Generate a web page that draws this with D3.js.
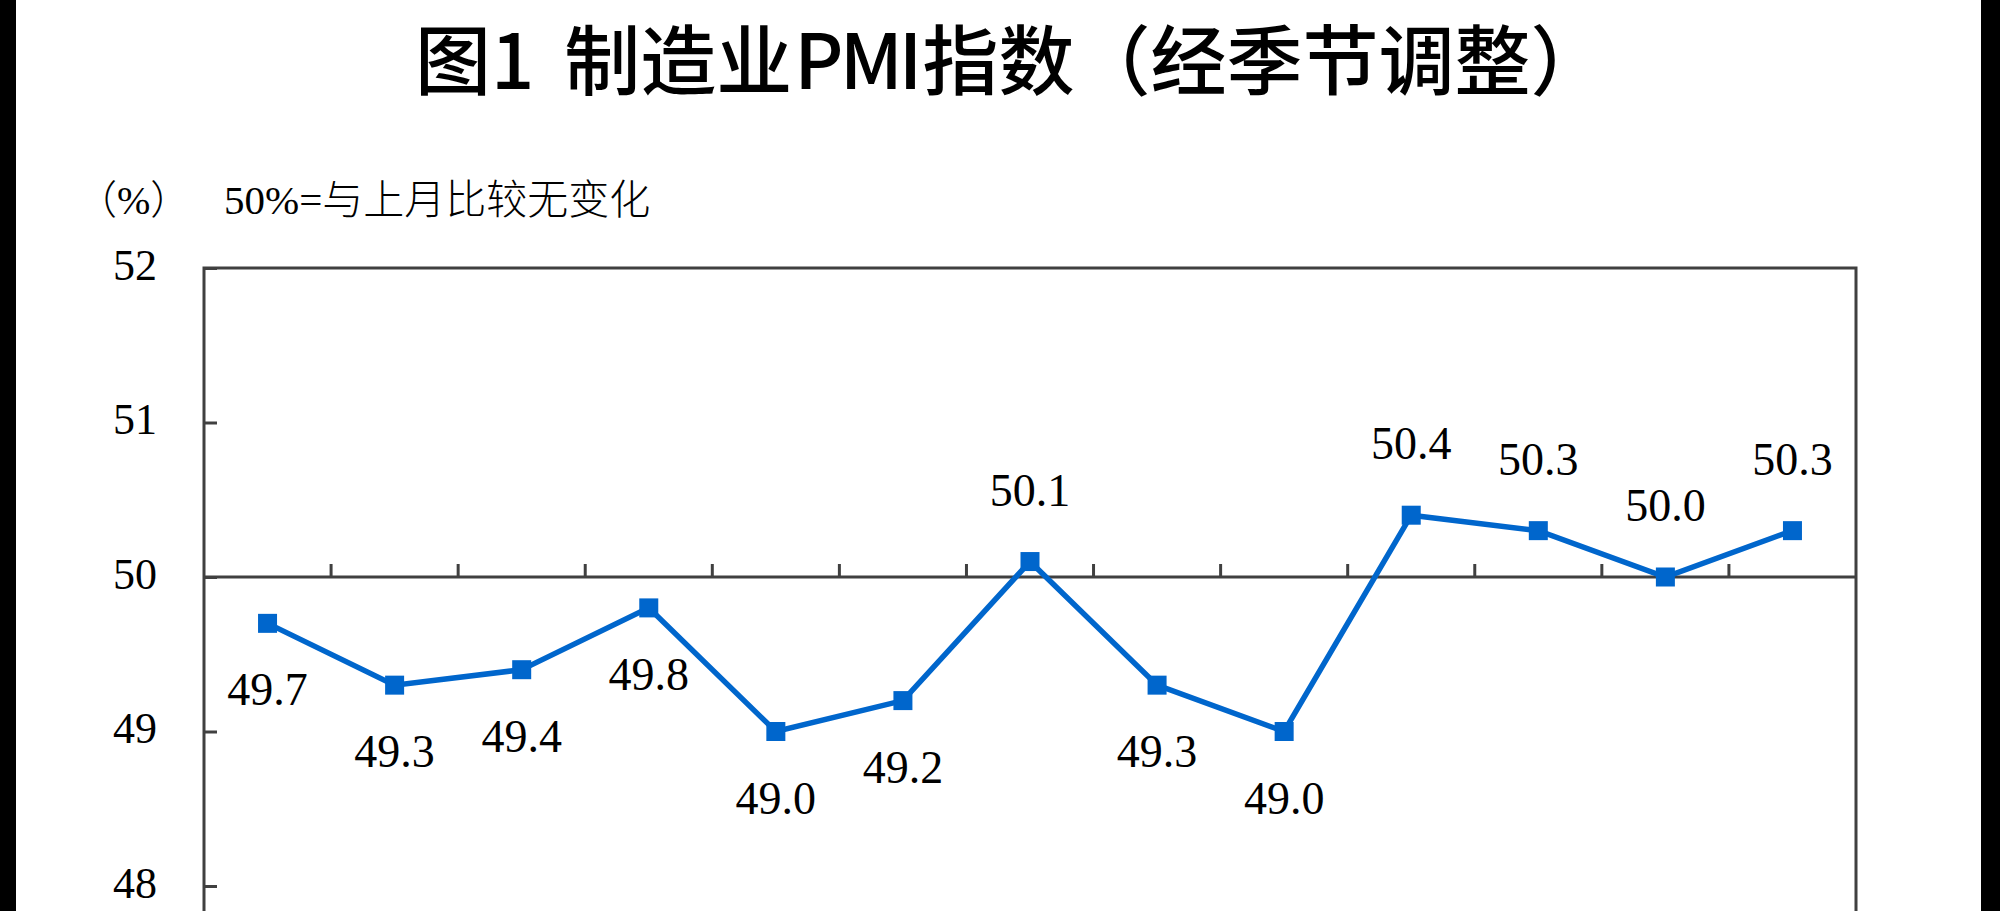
<!DOCTYPE html>
<html>
<head>
<meta charset="utf-8">
<script src="https://cdn.jsdelivr.net/npm/d3@7"></script>
<style>
  body { margin: 0; background: #fff; }
  svg { display: block; }
</style>
</head>
<body>
<svg id="chart" width="2000" height="911"></svg>
<script>
// months shown in the chart (x labels fall below the visible area)
const months = ['2025年6月', '7月', '8月', '9月', '10月', '11月', '12月',
  '2026年1月', '2月', '3月', '4月', '5月', '6月']
const pmi = [49.7, 49.3, 49.4, 49.8, 49.0, 49.2, 50.1, 49.3, 49.0, 50.4, 50.3, 50.0, 50.3]
const yTicks = [48, 49, 50, 51, 52]

const svg = d3.select('#chart')
const plotLeft = 204, plotRight = 1856, plotTop = 268

const x = d3.scaleBand()
  .domain(months)
  .range([plotLeft, plotRight])
  .paddingInner(0)
  .paddingOuter(0)

const y = d3.scaleLinear()
  .domain([48, 52])
  .range([886, plotTop])

// letterbox bars
svg.append('rect').attr('x', 0).attr('y', 0).attr('width', 16).attr('height', 911).attr('fill', '#000')
svg.append('rect').attr('x', 1981).attr('y', 0).attr('width', 19).attr('height', 911).attr('fill', '#000')

// title
const title = svg.append('text')
  .attr('x', 415)
  .attr('y', 89)
  .style('font-family', '"Noto Sans CJK SC"')
  .style('font-weight', 500)
  .style('font-size', '76px')
title.append('tspan').text('图1')
title.append('tspan').attr('dx', 30).text('制造业')
title.append('tspan').attr('dx', 2).style('letter-spacing', '4px').attr('textLength', 132).text('PMI')
title.append('tspan').attr('dx', 4).text('指数（经季节调整）')

// unit note
svg.append('text')
  .attr('x', 77)
  .attr('y', 214)
  .style('font-family', '"Liberation Serif", "Noto Sans CJK SC"')
  .style('font-weight', 300)
  .style('font-size', '40px')
  .text('（%）')
svg.append('text')
  .attr('x', 224)
  .attr('y', 214)
  .style('font-family', '"Liberation Serif", "Noto Sans CJK SC"')
  .style('font-weight', 300)
  .style('font-size', '41px')
  .text('50%=与上月比较无变化')

// y axis
const yAxis = d3.axisLeft(y)
  .tickValues(yTicks)
  .tickSize(-13)
  .tickSizeOuter(0)
  .tickPadding(47)
  .tickFormat(d3.format('d'))

const gy = svg.append('g')
  .attr('transform', `translate(${plotLeft},0)`)
  .call(yAxis)
gy.select('.domain').remove()
gy.selectAll('.tick line').attr('stroke', '#404040').attr('stroke-width', 3)
gy.selectAll('.tick text')
  .attr('dy', '0.25em')
  .style('font-family', '"Liberation Serif"')
  .style('font-size', '44px')
  .attr('fill', '#000')

// frame
const frame = svg.append('g')
  .attr('stroke', '#404040')
  .attr('stroke-width', 3)
  .attr('fill', 'none')
frame.append('path')
  .attr('d', `M${plotLeft},915 V${plotTop} H${plotRight} V915`)
  .attr('stroke-linejoin', 'miter')

// 50 line with category boundary ticks
frame.append('line')
  .attr('x1', plotLeft).attr('x2', plotRight)
  .attr('y1', y(50)).attr('y2', y(50))
frame.selectAll('.xtick')
  .data(months.slice(1))
  .enter()
  .append('line')
  .attr('class', 'xtick')
  .attr('x1', d => x(d)).attr('x2', d => x(d))
  .attr('y1', y(50)).attr('y2', y(50) - 13)

// series
const cx = (d, i) => x(months[i]) + x.bandwidth() / 2
const line = d3.line()
  .x(cx)
  .y(d => y(d))

svg.append('path')
  .datum(pmi)
  .attr('d', line)
  .attr('fill', 'none')
  .attr('stroke', '#0066cc')
  .attr('stroke-width', 5.5)
  .attr('stroke-linejoin', 'miter')

svg.selectAll('.marker')
  .data(pmi)
  .enter()
  .append('rect')
  .attr('class', 'marker')
  .attr('x', (d, i) => cx(d, i) - 9.5)
  .attr('y', d => y(d) - 9.5)
  .attr('width', 19)
  .attr('height', 19)
  .attr('fill', '#0066cc')

svg.selectAll('.value')
  .data(pmi)
  .enter()
  .append('text')
  .attr('class', 'value')
  .attr('x', cx)
  .attr('y', d => d < 50 ? y(d) + 82 : y(d) - 56)
  .attr('text-anchor', 'middle')
  .style('font-family', '"Liberation Serif"')
  .style('font-size', '46px')
  .text(d => d.toFixed(1))
</script>
</body>
</html>
